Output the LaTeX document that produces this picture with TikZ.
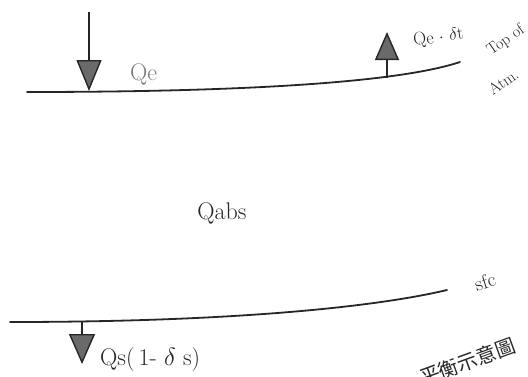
\documentclass[tikz,border=0pt]{standalone}
\usepackage{fontspec}
\newfontfamily\cjk{Noto Sans CJK TC}
\usetikzlibrary{arrows.meta}
\definecolor{ink}{HTML}{262626}
\definecolor{headfill}{HTML}{6A6A6A}
\definecolor{softink}{HTML}{7A7A7A}
\tikzset{
  surface/.style={draw=ink, line width=1.8pt, line cap=round},
  flux/.style={draw=ink, line width=1.4pt},
  label/.style={text=ink, inner sep=0pt, font=\fontsize{24}{26}\selectfont},
  smalllabel/.style={text=ink, inner sep=0pt, font=\fontsize{18}{20}\selectfont},
  toalabel/.style={text=ink, inner sep=0pt, font=\fontsize{16}{18}\selectfont, rotate=35, anchor=base west},
}
\begin{document}
\begin{tikzpicture}[x=1pt,y=-1pt]
\useasboundingbox (0,0) rectangle (528,376);
% top of atmosphere
\coordinate (tl) at (27,92);
\coordinate (tr) at (460,62);
\draw[surface] (tl) .. controls (250,92) and (400,82) .. (tr);
% bottom surface
\coordinate (bl) at (10,322);
\coordinate (br) at (447,290);
\draw[surface] (bl) .. controls (240,322) and (380,306) .. (br);
% incoming flux
\coordinate (inS) at (89,12);
\coordinate (inE) at (89,91);
\draw[flux, -{Triangle[length=31pt,width=25pt,fill=headfill]}] (inS) -- (inE);
% reflected at top
\coordinate (upS) at (387,78);
\coordinate (upE) at (387,32);
\draw[flux, -{Triangle[length=28pt,width=24pt,fill=headfill]}] (upS) -- (upE);
% into surface
\coordinate (dnS) at (82,322);
\coordinate (dnE) at (82,364);
\draw[flux, -{Triangle[length=30pt,width=26pt,fill=headfill]}] (dnS) -- (dnE);
% labels
\node[label, text=softink, anchor=base west] (qe) at (130,80) {Qe};
\node[smalllabel, anchor=base west, rotate=8] (qet) at (414,46) {Qe $\cdot$ $\delta$t};
\node[toalabel] (top) at (491,56) {Top of};
\node[toalabel] (atm) at (493,96) {Atm.};
\node[label, anchor=base] (qabs) at (222,219) {Qabs};
\node[text=ink, inner sep=0pt, font=\fontsize{20}{22}\selectfont, rotate=18, anchor=center] (sfc) at (485,282) {sfc};
\node[label, anchor=base west] (qs) at (100,365) {Qs(\,1- $\delta$ s)};
\node[text=ink, inner sep=0pt, font=\cjk\fontsize{20}{22}\selectfont, rotate=20, anchor=base west] (cap) at (423,386) {平衡示意圖};
\end{tikzpicture}
\end{document}
